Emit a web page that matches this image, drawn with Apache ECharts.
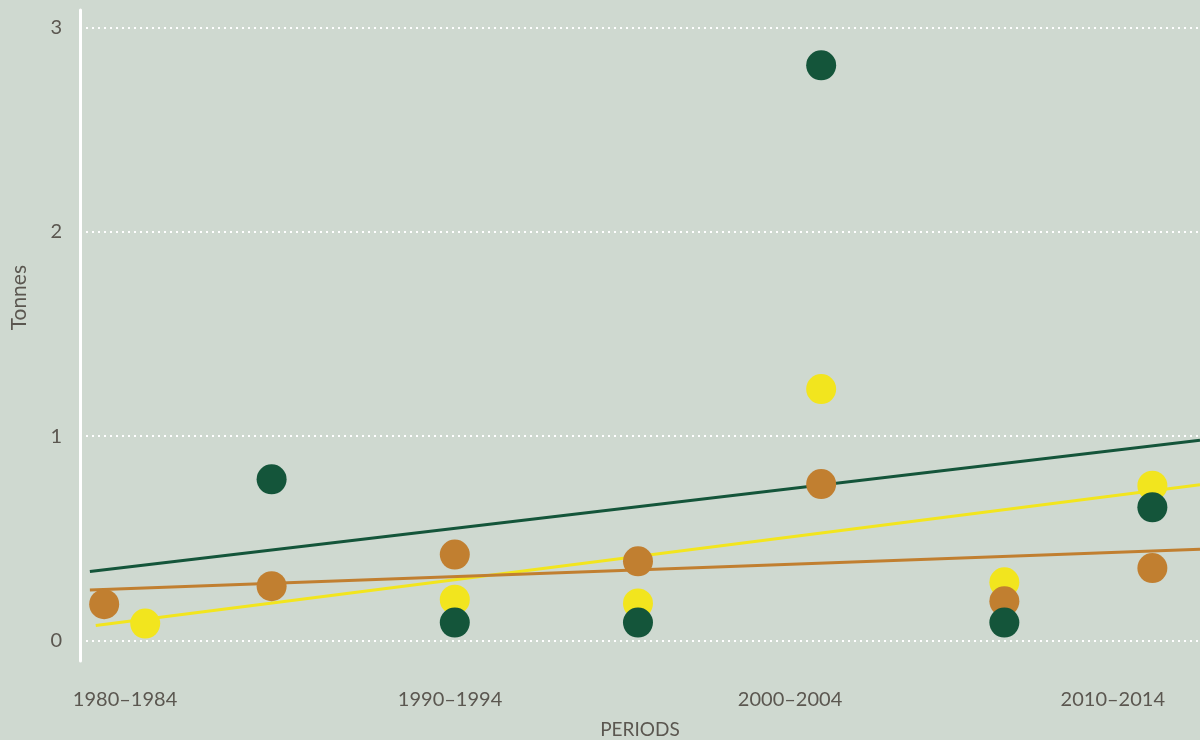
<!DOCTYPE html>
<html>
<head>
<meta charset="utf-8">
<script src="https://cdn.jsdelivr.net/npm/echarts@6/dist/echarts.min.js"></script>
<style>
  html, body { margin: 0; padding: 0; background: #cfd9d0; }
  #chart { width: 1200px; height: 740px; }
</style>
</head>
<body>
<div id="chart"></div>
<script>
// Period labels and the year positions they sit at on the x axis
const periodLabels = ['1980–1984', '1990–1994', '2000–2004', '2010–2014'];
const periodLabelYears = [1983, 1991.87, 2001.15, 2009.96];
const yTicks = [0, 1, 2, 3];

// Observations: [year, tonnes]
const yellowPoints = [[1983.55, 0.083], [1992, 0.2], [1997, 0.182], [2002, 1.231], [2007, 0.285], [2011.04, 0.758]];
const orangePoints = [[1982.43, 0.178], [1987, 0.266], [1992, 0.421], [1997, 0.388], [2002, 0.766], [2007, 0.192], [2011.04, 0.355]];
const greenPoints = [[1987, 0.789], [1992, 0.088], [1997, 0.088], [2002, 2.815], [2007, 0.088], [2011.04, 0.652]];

// Trend lines: start and end of each fitted line
const greenTrend = [[1982.04, 0.338], [2012.34, 0.98]];
const yellowTrend = [[1982.2, 0.074], [2012.34, 0.763]];
const orangeTrend = [[1982.04, 0.248], [2012.34, 0.447]];

const GREEN = '#14553a';
const ORANGE = '#c17f30';
const YELLOW = '#f2e51e';
const TEXT = '#5b5750';
const FONT = 'Lato';

const chart = echarts.init(document.getElementById('chart'));

function trend(data, color) {
  return {
    type: 'line', data: data, symbol: 'none', z: 1,
    lineStyle: { color: color, width: 3 },
    silent: true, animation: false
  };
}
function dots(data, color) {
  return {
    type: 'scatter', data: data, symbolSize: 30, z: 2,
    itemStyle: { color: color, opacity: 1 },
    animation: false
  };
}

chart.setOption({
  backgroundColor: '#cfd9d0',
  animation: false,
  grid: { left: 80, right: 0, top: 10, bottom: 79, containLabel: false, outerBoundsMode: 'none' },
  xAxis: {
    type: 'value',
    min: 1981.77, max: 2012.34,
    name: 'PERIODS',
    nameLocation: 'middle',
    nameGap: 59,
    nameTextStyle: { color: TEXT, fontFamily: FONT, fontSize: 19 },
    axisLine: { show: false },
    axisTick: { show: false },
    splitLine: { show: false },
    axisLabel: {
      customValues: periodLabelYears,
      margin: 29,
      color: TEXT, fontFamily: FONT, fontSize: 20,
      formatter: function (v) {
        let best = 0;
        periodLabelYears.forEach(function (y, i) {
          if (Math.abs(y - v) < Math.abs(periodLabelYears[best] - v)) best = i;
        });
        return periodLabels[best];
      }
    }
  },
  yAxis: {
    type: 'value',
    min: -0.1, max: 3.086,
    axisLine: { show: true, lineStyle: { color: '#ffffff', width: 3 } },
    axisTick: { show: false, customValues: yTicks },
    axisLabel: {
      customValues: yTicks,
      margin: 18,
      color: TEXT, fontFamily: FONT, fontSize: 20
    },
    splitLine: {
      show: true,
      lineStyle: { color: '#ffffff', width: 2, type: [2, 4] }
    }
  },
  graphic: [{
    type: 'text',
    left: 9, top: 265,
    rotation: Math.PI / 2,
    style: { text: 'Tonnes', fill: TEXT, font: '21px ' + FONT }
  }],
  series: [
    trend(greenTrend, GREEN),
    trend(yellowTrend, YELLOW),
    trend(orangeTrend, ORANGE),
    dots(yellowPoints, YELLOW),
    dots(orangePoints, ORANGE),
    dots(greenPoints, GREEN)
  ]
});
</script>
</body>
</html>
